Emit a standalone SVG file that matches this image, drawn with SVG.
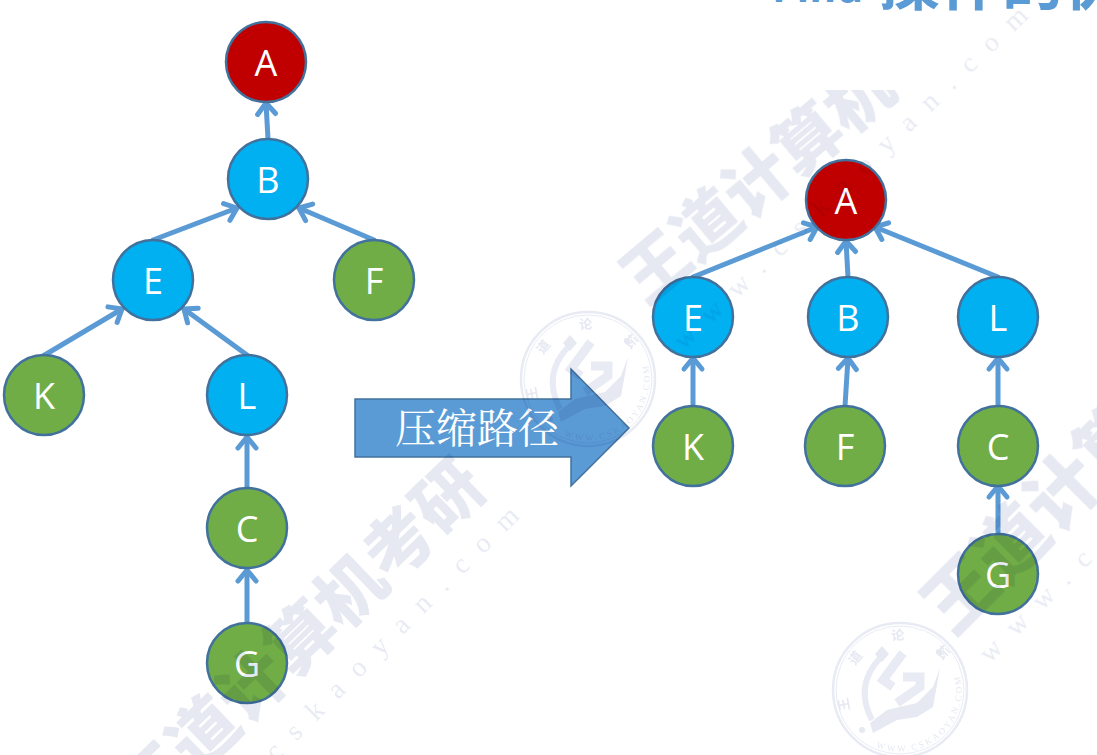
<svg xmlns="http://www.w3.org/2000/svg" width="1097" height="755" viewBox="0 0 1097 755">
<style>
.n{stroke:#41719c;stroke-width:2.5}
.r{fill:#c00000}.b{fill:#00b0f0}.g{fill:#70ad47}
.t{font-family:"Open Sans","Liberation Sans",sans-serif;font-size:36px;fill:#fff;text-anchor:middle;dominant-baseline:central}
.wm{font-family:"Noto Sans CJK SC",sans-serif;font-weight:900;fill:#e6e8f2}
.ws{font-family:"Liberation Serif",serif;font-size:28px;fill:#e9ebf4;letter-spacing:17px}
.c{fill:none;stroke:#5b9bd5;stroke-width:5;stroke-linecap:round;stroke-linejoin:round}
.st{fill:none;stroke:#e9ebf4}
.sf{fill:#e6e8f2}
.s1{font-family:"Noto Sans CJK SC",sans-serif;font-weight:700;font-size:13px}
.s2{font-family:"Liberation Serif",serif;font-size:9px}
</style>
<defs>
<marker id="a" markerUnits="userSpaceOnUse" markerWidth="26" markerHeight="26" refX="20" refY="12" orient="auto" overflow="visible">
<path d="M9 3L20 12L9 21" fill="none" stroke="#5b9bd5" stroke-width="5" stroke-linecap="round" stroke-linejoin="round"/>
</marker>
<clipPath id="wmc"><rect x="600" y="90" width="400" height="300"/></clipPath>
<path id="arcT" d="M-50 20A54 54 0 0 1 50-20"/>
<path id="arcB" d="M-24 57A62 62 0 0 0 57-24"/>
<g id="stamp">
<circle r="67" class="st" stroke-width="2.5"/>
<circle r="64" class="st" stroke-width="1"/>
<path d="M-20-32Q-46-4-28 30" class="st" stroke-width="6"/>
<path d="M-18-44L-11-36L-18-28L-25-36Z" class="sf"/>
<path d="M-30 33L-13 20L17 13L33-3L40-22L33 17L17 27L-3 30L-27 43Z" class="sf"/>
<path d="M3-37L-17-10L-7-3M3-13L20-13L20-3L-3 13" class="st" stroke-width="9"/>
<circle cx="-38" cy="40" r="3" class="sf"/>
<circle cx="39" cy="-38" r="3" class="sf"/>
<text class="s1 sf"><textPath href="#arcT" textLength="150">王 道 论 坛</textPath></text>
<text class="s2 sf"><textPath href="#arcB" textLength="135">WWW.CSKAOYAN.COM</textPath></text>
</g>
</defs>
<rect width="1097" height="755" fill="#fff"/>
<text id="title" font-family="Noto Sans CJK SC,sans-serif" font-weight="700" fill="#5b9bd5"><tspan x="772" y="2" font-size="42">Find</tspan><tspan x="878" y="5" font-size="62">操作的优化</tspan></text>
<g id="connectors">
<path class="c" marker-end="url(#a)" d="M268 139L266 103"/>
<path class="c" marker-end="url(#a)" d="M153 240L237 208"/>
<path class="c" marker-end="url(#a)" d="M374 240L299 208"/>
<path class="c" marker-end="url(#a)" d="M43 356L122 309"/>
<path class="c" marker-end="url(#a)" d="M247 355L184 309"/>
<path class="c" marker-end="url(#a)" d="M247 488V437"/>
<path class="c" marker-end="url(#a)" d="M247 623V570"/>
<path class="c" marker-end="url(#a)" d="M693 277L817 227"/>
<path class="c" marker-end="url(#a)" d="M848 277L846 241"/>
<path class="c" marker-end="url(#a)" d="M998 277L875 227"/>
<path class="c" marker-end="url(#a)" d="M693 406V358"/>
<path class="c" marker-end="url(#a)" d="M845 406L848 358"/>
<path class="c" marker-end="url(#a)" d="M998 406V358"/>
<path class="c" marker-end="url(#a)" d="M998 534V486"/>
</g>
<g id="arrow">
<path d="M355 399H571V369L629 428L571 486V457H355Z" fill="#5b9bd5" stroke="#41719c" stroke-width="1.5"/>
<text x="477" y="443" font-family="Noto Serif CJK SC,Noto Sans CJK SC,sans-serif" font-size="41" fill="#fff" text-anchor="middle">压缩路径</text>
</g>
<g id="node-A1"><circle class="n r" cx="266" cy="62" r="40"/><text class="t" x="266" y="62">A</text></g>
<g id="node-B1"><circle class="n b" cx="268" cy="179" r="40"/><text class="t" x="268" y="179">B</text></g>
<g id="node-E1"><circle class="n b" cx="153" cy="280" r="40"/><text class="t" x="153" y="280">E</text></g>
<g id="node-F1"><circle class="n g" cx="374" cy="280" r="40"/><text class="t" x="374" y="280">F</text></g>
<g id="node-K1"><circle class="n g" cx="44" cy="395" r="40"/><text class="t" x="44" y="395">K</text></g>
<g id="node-L1"><circle class="n b" cx="247" cy="395" r="40"/><text class="t" x="247" y="395">L</text></g>
<g id="node-C1"><circle class="n g" cx="247" cy="528" r="40"/><text class="t" x="247" y="528">C</text></g>
<g id="node-G1"><circle class="n g" cx="247" cy="663" r="40"/><text class="t" x="247" y="663">G</text></g>
<g id="node-A2"><circle class="n r" cx="846" cy="200" r="40"/><text class="t" x="846" y="200">A</text></g>
<g id="node-E2"><circle class="n b" cx="693" cy="317" r="40"/><text class="t" x="693" y="317">E</text></g>
<g id="node-B2"><circle class="n b" cx="848" cy="317" r="40"/><text class="t" x="848" y="317">B</text></g>
<g id="node-L2"><circle class="n b" cx="998" cy="317" r="40"/><text class="t" x="998" y="317">L</text></g>
<g id="node-K2"><circle class="n g" cx="693" cy="446" r="40"/><text class="t" x="693" y="446">K</text></g>
<g id="node-F2"><circle class="n g" cx="845" cy="446" r="40"/><text class="t" x="845" y="446">F</text></g>
<g id="node-C2"><circle class="n g" cx="998" cy="446" r="40"/><text class="t" x="998" y="446">C</text></g>
<g id="node-G2"><circle class="n g" cx="998" cy="574" r="40"/><text class="t" x="998" y="574">G</text></g>
<g id="watermarks" style="mix-blend-mode:multiply">
<text class="wm" font-size="68" transform="translate(147 821) rotate(-44)">王道计算机考研</text>
<g clip-path="url(#wmc)"><text class="wm" font-size="66" transform="translate(646 306) rotate(-40)">王道计算机</text></g>
<text class="wm" font-size="72" transform="translate(953 637) rotate(-45)">王道计算机</text>
<text class="ws" transform="translate(181 857) rotate(-45)">www.cskaoyan.com</text>
<text class="ws" transform="translate(684 351) rotate(-44)">www.cskaoyan.com</text>
<text class="ws" transform="translate(990 664) rotate(-45)">www.cskaoyan.com</text>
<use href="#stamp" x="588" y="379"/>
<use href="#stamp" x="900" y="690"/>
</g>
</svg>
